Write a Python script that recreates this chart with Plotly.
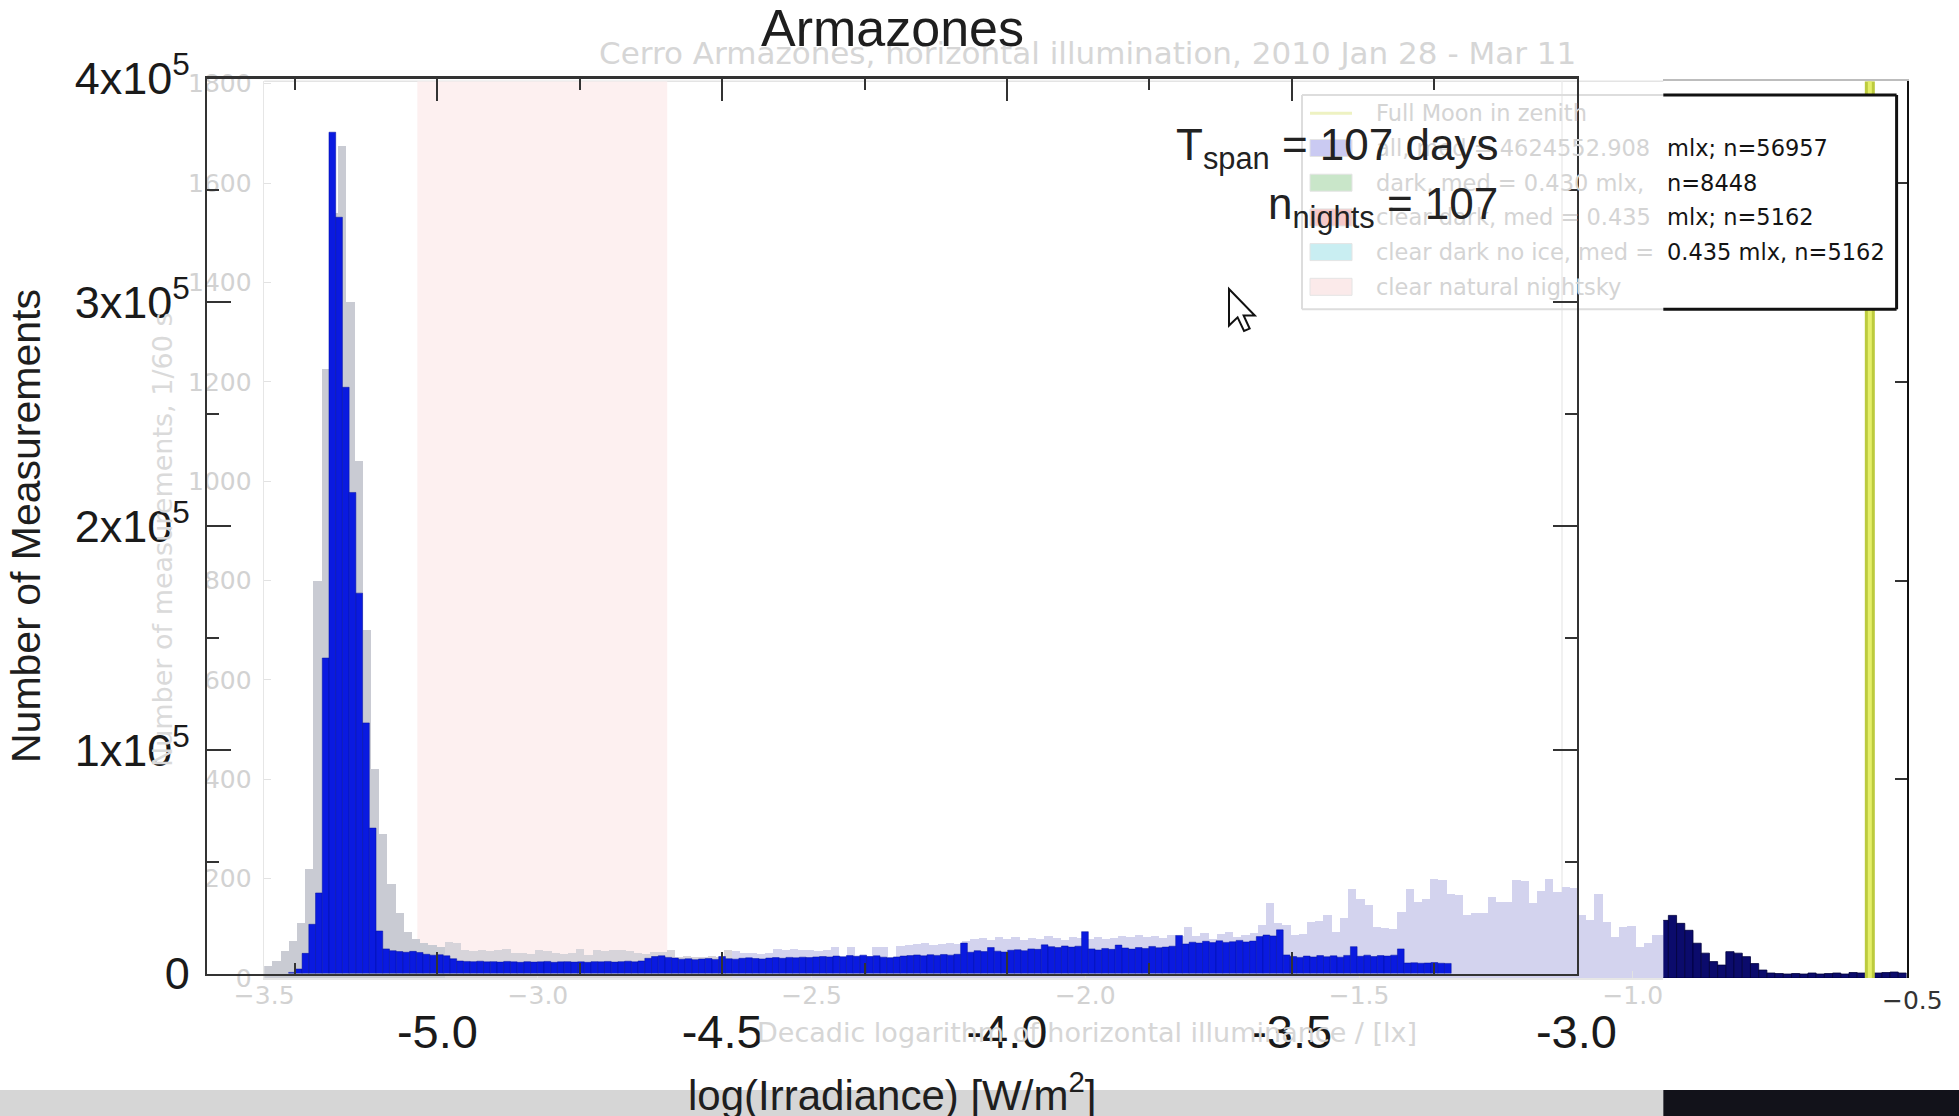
import plotly.graph_objects as go

W, H = 1959, 1116


def px(x):
    return x / W


def py(y):
    return 1 - y / H


# ---------------- data ----------------
# Main "Armazones" histogram (counts in thousands), fixed-width bins
MAIN_BIN_START = -5.2613
MAIN_BIN_WIDTH = 0.0118
main_counts_k = [
    0.5, 2, 9, 22, 36, 141, 376, 338, 262, 215,
    170, 112, 65, 19, 11, 10.2, 9.8, 9.5, 9.9, 9.4,
    8.6, 8.2, 8.4, 7.9, 6.6, 5.6, 5.4, 5.3, 5.5, 5.2,
    5.3, 5.1, 5.4, 5.2, 5.0, 5.3, 5.1, 5.2, 5.4, 5.0,
    5.2, 5.3, 5.1, 5.2, 5.0, 5.3, 5.2, 5.4, 5.1, 5.3,
    5.5, 5.2, 5.6, 6.8, 7.6, 7.9, 7.2, 6.9, 6.4, 6.6,
    6.2, 6.5, 6.7, 6.3, 7.6, 6.6, 6.4, 6.8, 7.0, 6.7,
    6.5, 6.9, 7.1, 6.8, 7.2, 7.0, 7.3, 7.1, 7.4, 7.6,
    7.4, 7.8, 7.5, 8.0, 7.7, 8.2, 7.6, 7.9, 7.3, 7.0,
    7.4, 7.8, 8.0, 8.3, 7.9, 8.4, 8.1, 8.5, 8.2, 8.6,
    13.6, 9.5, 10.2, 9.8, 11.6, 10.0, 9.6, 10.4, 10.6, 10.2,
    11.0, 10.8, 12.8, 12.0, 11.6, 12.3, 11.8, 12.2, 18.7, 11.0,
    10.5, 11.2, 10.8, 12.7, 11.4, 10.9, 11.6, 11.2, 12.1, 11.5,
    11.8, 12.2, 17.0, 13.2, 14.0, 13.6, 14.4, 13.8, 14.6, 13.9,
    14.2, 14.8, 14.1, 14.5, 16.5, 17.2, 16.8, 19.5, 8.3, 7.6,
    7.2, 7.8, 7.4, 8.0, 7.5, 7.9, 7.3, 8.1, 12.0, 7.7,
    8.2, 7.6, 8.0, 7.8, 8.2, 11.0, 4.7, 4.8, 4.6, 4.7,
    4.9, 4.6, 4.5,
]

# Background (faded) illumination histogram, counts per bin
BG_BIN_START = -3.5
BG_BIN_WIDTH = 0.015
bg_counts_faded = [
    25, 35, 55, 75, 110, 220, 800, 1226, 1540, 1674,
    1360, 1040, 700, 420, 290, 190, 130, 92, 78, 70,
    66, 63, 72, 70, 56, 55, 57, 54, 56, 58,
    50, 51, 49, 56, 55, 50, 49, 51, 58, 46,
    56, 55, 57, 56, 54, 50, 49, 53, 52, 56,
    43, 44, 42, 43, 44, 42, 56, 55, 50, 51,
    49, 50, 58, 57, 59, 56, 56, 55, 57, 63,
    43, 63, 43, 44, 63, 62, 43, 64, 66, 68,
    70, 67, 69, 70, 68, 75, 78, 80, 76, 82,
    79, 83, 77, 81, 78, 84, 80, 76, 82, 80,
    78, 82, 79, 81, 84, 82, 86, 83, 85, 81,
    86, 84, 103, 85, 90, 78, 88, 93, 82, 86,
    91, 106, 150, 110, 106, 86, 88, 113, 115, 126,
    93, 120, 180, 160, 146, 103, 100, 98, 133, 180,
    153, 160, 200, 198, 170, 168, 126, 130, 131, 163,
    153, 152, 197, 196, 150, 176, 200, 173, 183, 182,
    126, 116, 170, 113, 83, 103, 104, 63, 70, 86,
    86,
]
SHARP_FIRST_BIN = 170
bg_counts_sharp = [
    116, 126, 110, 96, 70, 50, 33, 26, 53, 50,
    43, 29, 16, 10, 9, 8, 9, 8, 10, 8,
    9, 10, 8, 11, 10, 12, 10, 11, 12, 10,
]

main_xticks = [-5.0, -4.5, -4.0, -3.5, -3.0]
main_xtick_text = ["-5.0", "-4.5", "-4.0", "-3.5", "-3.0"]
main_yticks = [0, 100000, 200000, 300000, 400000]
main_ytick_text = ["0", "1x10<sup>5</sup>", "2x10<sup>5</sup>", "3x10<sup>5</sup>", "4x10<sup>5</sup>"]

bg_xticks = [-3.5, -3.0, -2.5, -2.0, -1.5, -1.0]
bg_xtick_text = ["\u22123.5", "\u22123.0", "\u22122.5", "\u22122.0", "\u22121.5", "\u22121.0"]
bg_yticks = [0, 200, 400, 600, 800, 1000, 1200, 1400, 1600, 1800]
bg_ytick_text = [str(v) for v in bg_yticks]

FULL_MOON_LOG = -0.567
NIGHTSKY_BAND = (-3.2203, -2.7638)

legend_faded_text = [
    "Full Moon in zenith",
    "all, med = 4624552.908",
    "dark, med = 0.430 mlx, ",
    "clear dark, med = 0.435",
    "clear dark no ice, med = ",
    "clear natural nightsky",
]
legend_sharp_text = ["", "mlx; n=56957", "n=8448", "mlx; n=5162", "0.435 mlx, n=5162", ""]
legend_patch_colors = [None, "#cacaf2", "#c9e6c9", "#f5c9c9", "#c9eef2", "#fbeaea"]

# ---------------- geometry (pixels of the 1959x1116 page) ----------------
MAIN_L, MAIN_R, MAIN_T, MAIN_B = 207.4, 1576.7, 78.5, 973.5
BG_L, BG_R, BG_T, BG_B = 264.2, 1906.5, 81.2, 978.0
CUT = 1663.3
BG_PX_PER_UNIT = (BG_R - BG_L) / 3.0
BG_CUT_VAL = -3.5 + (CUT - BG_L) / BG_PX_PER_UNIT

# ---------------- traces ----------------
main_x = [MAIN_BIN_START + MAIN_BIN_WIDTH * (i + 0.5) for i in range(len(main_counts_k))]
main_y = [v * 1000 for v in main_counts_k]

bg_x = [BG_BIN_START + BG_BIN_WIDTH * (i + 0.5) for i in range(len(bg_counts_faded))]
bg_colors = []
for i in range(len(bg_counts_faded)):
    if i <= 21:
        bg_colors.append("#c9cbd3")
    elif i <= 56:
        bg_colors.append("#d7d4da")
    else:
        bg_colors.append("#d3d3ee")

sharp_x = [BG_BIN_START + BG_BIN_WIDTH * (SHARP_FIRST_BIN + i + 0.5) for i in range(len(bg_counts_sharp))]

fig = go.Figure()
fig.add_trace(go.Bar(x=bg_x, y=bg_counts_faded, width=BG_BIN_WIDTH,
                     marker=dict(color=bg_colors, line=dict(width=0)),
                     xaxis="x", yaxis="y", hoverinfo="skip"))
fig.add_trace(go.Bar(x=main_x, y=main_y, width=MAIN_BIN_WIDTH,
                     marker=dict(color="#0a1ae0", line=dict(color="#0010a0", width=0.5)),
                     xaxis="x2", yaxis="y2", hoverinfo="skip"))
fig.add_trace(go.Bar(x=sharp_x, y=bg_counts_sharp, width=BG_BIN_WIDTH,
                     marker=dict(color="#0b0b6c", line=dict(color="#00003c", width=0.8)),
                     xaxis="x3", yaxis="y3", hoverinfo="skip"))

FAINT = "#d2d2d2"
faded_tick_font = dict(family="DejaVu Sans", size=25, color=FAINT)
main_xtick_font = dict(family="Liberation Sans, Arial", size=47, color="#1a1a1a")
main_ytick_font = dict(family="Liberation Sans, Arial", size=45, color="#1a1a1a")

fig.update_layout(
    width=W, height=H, autosize=False,
    margin=dict(l=0, r=0, t=0, b=0),
    paper_bgcolor="white", plot_bgcolor="rgba(0,0,0,0)",
    showlegend=False, bargap=0,
    xaxis=dict(domain=[px(BG_L), px(CUT)], range=[-3.5, BG_CUT_VAL], anchor="y",
               showline=True, linecolor="#e6e6e6", linewidth=1.5,
               ticks="inside", ticklen=7, tickcolor="#e2e2e2",
               tickmode="array", tickvals=bg_xticks, ticktext=bg_xtick_text,
               tickfont=faded_tick_font, ticklabelstandoff=-6,
               showgrid=False, zeroline=False, automargin=False, fixedrange=True),
    yaxis=dict(domain=[py(BG_B), py(BG_T)], range=[0, 1805], anchor="x",
               showline=True, linecolor="#e6e6e6", linewidth=1.5,
               ticks="inside", ticklen=7, tickcolor="#e2e2e2",
               tickmode="array", tickvals=bg_yticks, ticktext=bg_ytick_text,
               tickfont=faded_tick_font, ticklabelstandoff=6,
               showgrid=False, zeroline=False, automargin=False, fixedrange=True),
    xaxis2=dict(domain=[px(MAIN_L), px(MAIN_R)], range=[-5.404, -2.9995], anchor="y2",
                showline=True, mirror="allticks", linecolor="#333333", linewidth=2.5,
                ticks="inside", ticklen=22, tickwidth=2, tickcolor="#333333",
                tickmode="array", tickvals=main_xticks, ticktext=main_xtick_text,
                tickfont=main_xtick_font, ticklabelstandoff=16,
                minor=dict(ticks="inside", ticklen=11, tickwidth=2, tickcolor="#333333",
                           tick0=-5.0, dtick=0.25, showgrid=False),
                showgrid=False, zeroline=False, automargin=False, fixedrange=True),
    yaxis2=dict(domain=[py(MAIN_B), py(MAIN_T)], range=[0, 400000], anchor="x2",
                showline=True, mirror="allticks", linecolor="#333333", linewidth=2.5,
                ticks="inside", ticklen=24, tickwidth=2, tickcolor="#333333",
                tickmode="array", tickvals=main_yticks, ticktext=main_ytick_text,
                tickfont=main_ytick_font, ticklabelstandoff=6,
                minor=dict(ticks="inside", ticklen=12, tickwidth=2, tickcolor="#333333",
                           tick0=0, dtick=50000, showgrid=False),
                showgrid=False, zeroline=False, automargin=False, fixedrange=True),
    xaxis3=dict(domain=[px(CUT), px(BG_R)], range=[BG_CUT_VAL, -0.5], anchor="y3",
                side="top", showline=True, linecolor="#bdbdbd", linewidth=2,
                ticks="", showticklabels=False,
                showgrid=False, zeroline=False, automargin=False, fixedrange=True),
    yaxis3=dict(domain=[py(BG_B), py(BG_T)], range=[0, 1805], anchor="x3",
                side="right", showline=True, linecolor="#111111", linewidth=2.5,
                ticks="inside", ticklen=12, tickwidth=2, tickcolor="#333333",
                tickmode="array", tickvals=[400, 800, 1200, 1600], showticklabels=False,
                showgrid=False, zeroline=False, automargin=False, fixedrange=True),
)

shapes = []
# clear natural night-sky band (faded background chart)
shapes.append(dict(type="rect", xref="x", yref="y", x0=NIGHTSKY_BAND[0], x1=NIGHTSKY_BAND[1],
                   y0=0, y1=1805, fillcolor="#fdf0f0", line=dict(width=0), layer="below"))
# faded background frame top / faint vertical
shapes.append(dict(type="line", xref="paper", yref="paper", x0=px(BG_L), x1=px(CUT),
                   y0=py(BG_T), y1=py(BG_T), line=dict(color="#e4e4e4", width=1.5), layer="below"))
shapes.append(dict(type="line", xref="paper", yref="paper", x0=px(1562), x1=px(1562),
                   y0=py(BG_T), y1=py(BG_B), line=dict(color="#ececec", width=1.5), layer="below"))
# Full Moon in zenith line (sharp part)
shapes.append(dict(type="line", xref="x3", yref="y3", x0=FULL_MOON_LOG, x1=FULL_MOON_LOG,
                   y0=0, y1=1805, line=dict(color="#bccb3e", width=10), layer="above"))
shapes.append(dict(type="line", xref="x3", yref="y3", x0=FULL_MOON_LOG, x1=FULL_MOON_LOG,
                   y0=0, y1=1805, line=dict(color="#e4ee6a", width=4), layer="above"))

# faded legend box
LEG_L, LEG_T, LEG_B, LEG_R = 1302.0, 95.0, 309.3, 1896.6
for (xa, ya, xb, yb) in [(LEG_L, LEG_T, CUT, LEG_T), (LEG_L, LEG_B, CUT, LEG_B), (LEG_L, LEG_T, LEG_L, LEG_B)]:
    shapes.append(dict(type="line", xref="paper", yref="paper", x0=px(xa), x1=px(xb),
                       y0=py(ya), y1=py(yb), line=dict(color="#dddddd", width=2), layer="below"))
# sharp legend box
shapes.append(dict(type="rect", xref="paper", yref="paper", x0=px(CUT), x1=px(LEG_R),
                   y0=py(LEG_B), y1=py(LEG_T), fillcolor="white",
                   line=dict(width=0), layer="above"))
for (xa, ya, xb, yb) in [(CUT, LEG_T, LEG_R, LEG_T), (CUT, LEG_B, LEG_R, LEG_B), (LEG_R, LEG_T, LEG_R, LEG_B)]:
    shapes.append(dict(type="line", xref="paper", yref="paper", x0=px(xa), x1=px(xb),
                       y0=py(ya), y1=py(yb), line=dict(color="#111111", width=3), layer="above"))

LEG_Y0, LEG_DY = 113.3, 34.7
for i, col in enumerate(legend_patch_colors):
    yc = LEG_Y0 + LEG_DY * i
    if i == 0:
        shapes.append(dict(type="line", xref="paper", yref="paper", x0=px(1310), x1=px(1352),
                           y0=py(yc), y1=py(yc), line=dict(color="#eef2c2", width=3), layer="below"))
    else:
        shapes.append(dict(type="rect", xref="paper", yref="paper", x0=px(1310), x1=px(1352),
                           y0=py(yc + 8.5), y1=py(yc - 8.5), fillcolor=col,
                           line=dict(color="#e4e4e4", width=1), layer="below"))

# bottom strip of the video frame
shapes.append(dict(type="rect", xref="paper", yref="paper", x0=0, x1=px(CUT), y0=0, y1=py(1090),
                   fillcolor="#d6d6d6", line=dict(width=0), layer="below"))
shapes.append(dict(type="rect", xref="paper", yref="paper", x0=px(CUT), x1=1, y0=0, y1=py(1090),
                   fillcolor="#12121a", line=dict(width=0), layer="below"))

# mouse cursor
tip_x, tip_y, s = 1229.0, 289.0, 2.15
cursor_pts = [(0, 0), (0, 17), (4, 13.2), (7, 19.5), (9.6, 18.4), (6.8, 12.3), (12, 12.3)]
path = "M " + " L ".join(f"{px(tip_x + s * a):.5f},{py(tip_y + s * b):.5f}" for a, b in cursor_pts) + " Z"
shapes.append(dict(type="path", xref="paper", yref="paper", path=path,
                   fillcolor="white", line=dict(color="#111111", width=2), layer="above"))

fig.update_layout(shapes=shapes)

ann = []


def text(x, y, t, size, color, family="Liberation Sans, Arial", xanchor="center", yanchor="middle", angle=0):
    ann.append(dict(x=px(x), y=py(y), xref="paper", yref="paper", text=t, showarrow=False,
                    xanchor=xanchor, yanchor=yanchor, textangle=angle,
                    font=dict(family=family, size=size, color=color)))


# faded background chart texts
text(1087, 53, "Cerro Armazones, horizontal illumination, 2010 Jan 28 - Mar 11", 31, "#d6d6d6", "DejaVu Sans")
text(1087, 1032, "Decadic logarithm of horizontal illuminance / [lx]", 27, "#d6d6d6", "DejaVu Sans")
text(162, 540, "Number of measurements, 1/60 s", 27, "#dadada", "DejaVu Sans", angle=-90)
for i, t in enumerate(legend_faded_text):
    text(1374, LEG_Y0 + LEG_DY * i, t, 22.5, "#d4d4d4", "DejaVu Sans", xanchor="left")
for i, t in enumerate(legend_sharp_text):
    if t:
        text(1665, LEG_Y0 + LEG_DY * i, t, 22.5, "#141414", "DejaVu Sans", xanchor="left")
text(1912, 1000, "\u22120.5", 25, "#333333", "DejaVu Sans")

# main chart texts
text(892, 28, "Armazones", 52, "#1e1e1e")
text(892, 1092, "log(Irradiance) [W/m<sup>2</sup>]", 42, "#1e1e1e")
text(26, 526, "Number of Measurements", 41, "#1e1e1e", angle=-90)
text(1500, 148, "T<sub>span</sub> = 107 days", 44, "#222222", xanchor="right")
text(1500, 207, "n<sub>nights</sub> = 107", 44, "#222222", xanchor="right")

fig.update_layout(annotations=ann)

fig.write_html(
    "out.html",
    config={"displayModeBar": False, "staticPlot": True},
    post_script="document.body.style.margin='0';document.documentElement.style.overflow='hidden';",
)
